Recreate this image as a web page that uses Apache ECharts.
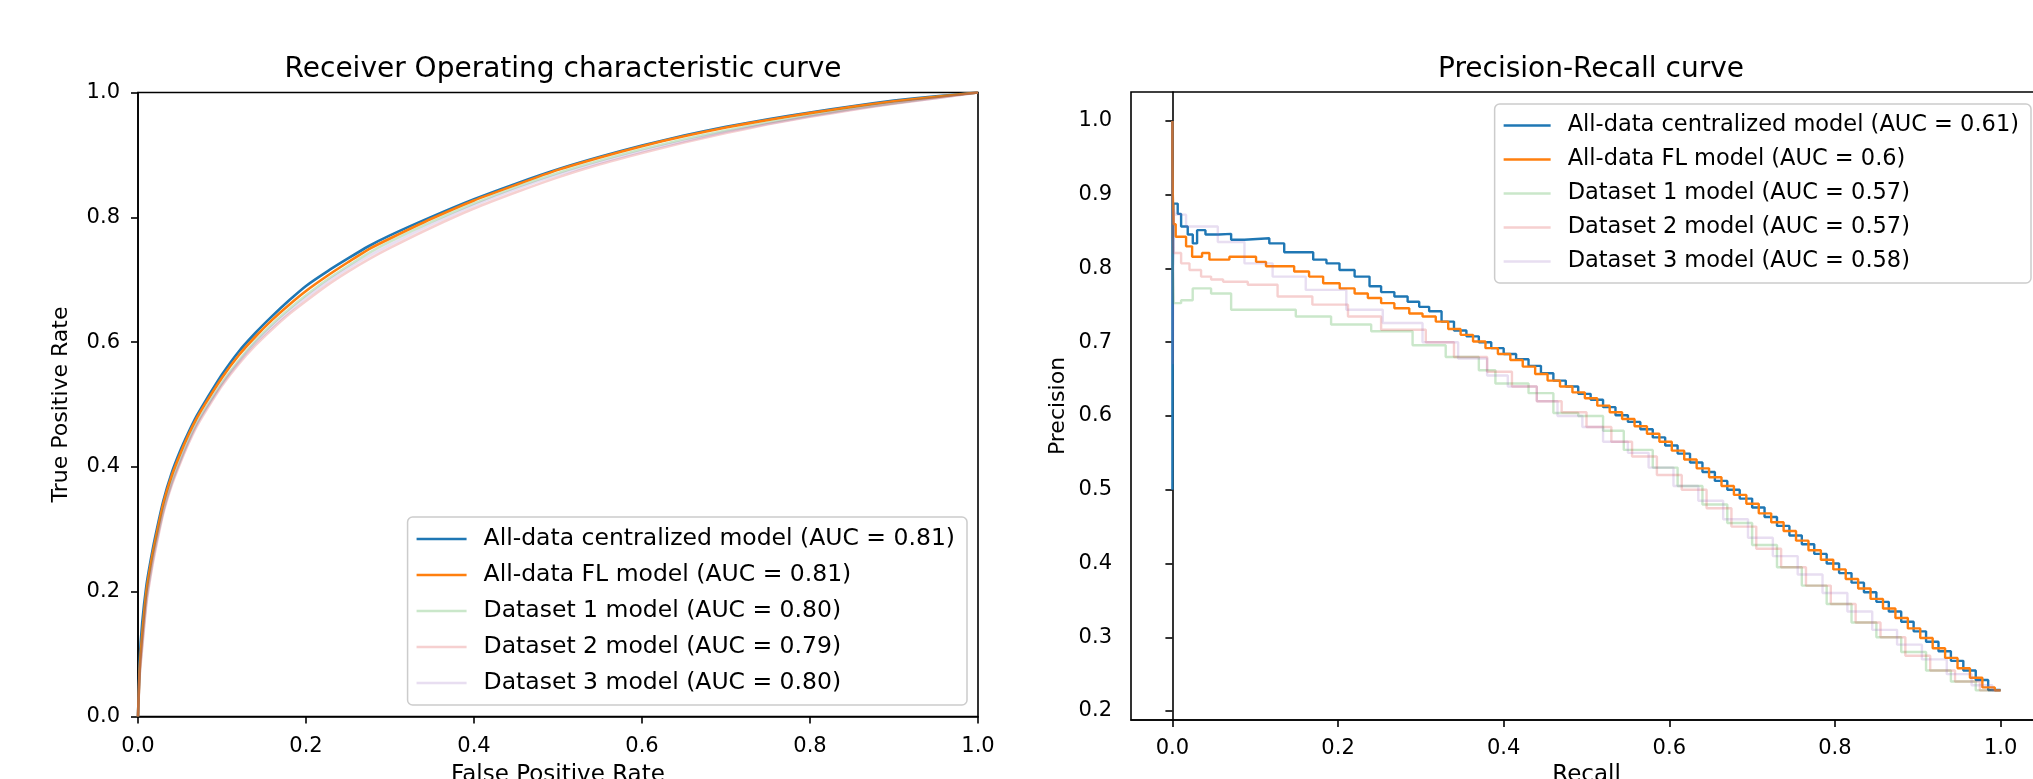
<!DOCTYPE html>
<html><head><meta charset="utf-8">
<script src="https://cdn.jsdelivr.net/npm/echarts@6/dist/echarts.min.js"></script>
<style>html,body{margin:0;padding:0;background:#fff;overflow:hidden}#c{width:2033px;height:779px}</style>
</head><body><div id="c"></div>
<script>
// ---------- titles / labels ----------
const rocTitle = 'Receiver Operating characteristic curve';
const prTitle = 'Precision-Recall curve';
const rocXName = 'False Positive Rate';
const rocYName = 'True Positive Rate';
const prXName = 'Recall';
const prYName = 'Precision';

const rocNames = ['All-data centralized model (AUC = 0.81)', 'All-data FL model (AUC = 0.81)',
  'Dataset 1 model (AUC = 0.80)', 'Dataset 2 model (AUC = 0.79)', 'Dataset 3 model (AUC = 0.80)'];
const prNames = ['All-data centralized model (AUC = 0.61)', 'All-data FL model (AUC = 0.6)',
  'Dataset 1 model (AUC = 0.57)', 'Dataset 2 model (AUC = 0.57)', 'Dataset 3 model (AUC = 0.58)'];

const rocTicks = [0, 0.2, 0.4, 0.6, 0.8, 1.0];
const prXTicks = [0, 0.2, 0.4, 0.6, 0.8, 1.0];
const prYTicks = [0.2, 0.3, 0.4, 0.5, 0.6, 0.7, 0.8, 0.9, 1.0];

// ---------- ROC data ----------
const rocFpr = [0, 0.002, 0.005, 0.01, 0.015, 0.02, 0.03, 0.04, 0.05, 0.06, 0.07, 0.08, 0.1, 0.12, 0.14, 0.16, 0.18, 0.2, 0.225, 0.25, 0.275, 0.3, 0.35, 0.4, 0.45, 0.5, 0.55, 0.6, 0.65, 0.7, 0.75, 0.8, 0.85, 0.9, 0.95, 1.0];
const rocCentral = [0, 0.09, 0.15, 0.21, 0.25, 0.285, 0.345, 0.39, 0.425, 0.455, 0.482, 0.505, 0.548, 0.585, 0.615, 0.642, 0.667, 0.69, 0.713, 0.734, 0.754, 0.771, 0.801, 0.829, 0.854, 0.877, 0.897, 0.915, 0.931, 0.945, 0.957, 0.968, 0.978, 0.987, 0.994, 1.0];
const rocFL = [0, 0.075, 0.13, 0.20, 0.243, 0.278, 0.34, 0.385, 0.42, 0.451, 0.478, 0.501, 0.543, 0.579, 0.609, 0.636, 0.66, 0.682, 0.706, 0.728, 0.749, 0.766, 0.798, 0.827, 0.852, 0.876, 0.896, 0.914, 0.93, 0.944, 0.956, 0.967, 0.977, 0.986, 0.993, 1.0];
const rocDs1 = [0, 0.07, 0.12, 0.19, 0.233, 0.27, 0.33, 0.375, 0.41, 0.442, 0.47, 0.493, 0.535, 0.571, 0.602, 0.629, 0.653, 0.675, 0.7, 0.722, 0.743, 0.761, 0.793, 0.822, 0.848, 0.871, 0.891, 0.909, 0.925, 0.939, 0.952, 0.963, 0.974, 0.983, 0.992, 1.0];
const rocDs2 = [0, 0.065, 0.11, 0.18, 0.225, 0.262, 0.325, 0.37, 0.405, 0.437, 0.465, 0.488, 0.53, 0.565, 0.595, 0.621, 0.645, 0.666, 0.691, 0.713, 0.733, 0.751, 0.784, 0.814, 0.84, 0.864, 0.885, 0.903, 0.92, 0.935, 0.949, 0.961, 0.972, 0.982, 0.991, 1.0];
const rocDs3 = [0, 0.068, 0.115, 0.185, 0.229, 0.266, 0.328, 0.373, 0.408, 0.44, 0.468, 0.491, 0.533, 0.568, 0.599, 0.625, 0.649, 0.671, 0.696, 0.718, 0.738, 0.756, 0.789, 0.819, 0.845, 0.868, 0.888, 0.906, 0.922, 0.937, 0.95, 0.962, 0.973, 0.983, 0.991, 1.0];

// ---------- Precision-Recall data (recall ascending, precision level) ----------
const prRecCentral = [0, 0.0004, 0.0012, 0.0064, 0.0105, 0.0185, 0.0246, 0.0298, 0.0399, 0.056, 0.0709, 0.087, 0.117, 0.135, 0.170, 0.186, 0.2017, 0.22, 0.238, 0.252, 0.268, 0.284, 0.298, 0.31, 0.325, 0.34, 0.355, 0.37, 0.385, 0.40, 0.415, 0.43, 0.445, 0.46, 0.475, 0.49, 0.505, 0.52, 0.535, 0.55, 0.565, 0.58, 0.595, 0.61, 0.625, 0.64, 0.655, 0.67, 0.685, 0.70, 0.715, 0.73, 0.745, 0.76, 0.775, 0.79, 0.805, 0.82, 0.835, 0.85, 0.865, 0.88, 0.895, 0.91, 0.925, 0.94, 0.955, 0.97, 0.985, 1.0];
const prPreCentral = [1.0, 0.5, 0.79, 0.888, 0.874, 0.857, 0.846, 0.834, 0.852, 0.846, 0.847, 0.839, 0.841, 0.834, 0.822, 0.812, 0.807, 0.798, 0.789, 0.776, 0.768, 0.762, 0.755, 0.748, 0.742, 0.728, 0.716, 0.708, 0.700, 0.692, 0.684, 0.677, 0.668, 0.658, 0.648, 0.640, 0.630, 0.622, 0.612, 0.601, 0.592, 0.582, 0.571, 0.560, 0.549, 0.537, 0.524, 0.512, 0.500, 0.488, 0.476, 0.463, 0.451, 0.438, 0.426, 0.413, 0.400, 0.387, 0.374, 0.361, 0.348, 0.335, 0.321, 0.308, 0.294, 0.281, 0.268, 0.255, 0.242, 0.2285];

const prRecFL = [0, 0.0005, 0.0015, 0.004, 0.0165, 0.0238, 0.0358, 0.0447, 0.0688, 0.101, 0.113, 0.147, 0.165, 0.182, 0.202, 0.220, 0.236, 0.252, 0.268, 0.286, 0.302, 0.318, 0.333, 0.348, 0.363, 0.378, 0.393, 0.408, 0.423, 0.438, 0.453, 0.468, 0.483, 0.498, 0.513, 0.528, 0.543, 0.558, 0.573, 0.588, 0.603, 0.618, 0.633, 0.648, 0.663, 0.678, 0.693, 0.708, 0.723, 0.738, 0.753, 0.768, 0.783, 0.798, 0.813, 0.828, 0.843, 0.858, 0.873, 0.888, 0.903, 0.918, 0.933, 0.948, 0.963, 0.978, 0.993, 1.0];
const prPreFL = [1.0, 0.95, 0.90, 0.86, 0.843, 0.830, 0.816, 0.821, 0.812, 0.816, 0.809, 0.803, 0.796, 0.789, 0.780, 0.773, 0.766, 0.760, 0.753, 0.746, 0.739, 0.735, 0.728, 0.718, 0.710, 0.701, 0.692, 0.684, 0.676, 0.667, 0.657, 0.648, 0.640, 0.632, 0.624, 0.614, 0.605, 0.596, 0.586, 0.576, 0.565, 0.553, 0.541, 0.529, 0.517, 0.505, 0.493, 0.481, 0.468, 0.456, 0.444, 0.431, 0.418, 0.405, 0.392, 0.379, 0.366, 0.352, 0.339, 0.326, 0.312, 0.299, 0.285, 0.272, 0.258, 0.245, 0.232, 0.228];

const prRecDs1 = [0, 0.0005, 0.0015, 0.0105, 0.0245, 0.0467, 0.0709, 0.149, 0.1916, 0.24, 0.29, 0.33, 0.37, 0.39, 0.43, 0.46, 0.49, 0.52, 0.545, 0.58, 0.61, 0.64, 0.67, 0.70, 0.73, 0.76, 0.79, 0.82, 0.85, 0.88, 0.91, 0.94, 0.97, 1.0];
const prPreDs1 = [1.0, 0.88, 0.80, 0.753, 0.757, 0.773, 0.766, 0.744, 0.735, 0.724, 0.715, 0.696, 0.680, 0.662, 0.644, 0.631, 0.604, 0.600, 0.580, 0.554, 0.530, 0.505, 0.480, 0.455, 0.425, 0.395, 0.370, 0.345, 0.320, 0.300, 0.280, 0.255, 0.240, 0.228];

const prRecDs2 = [0, 0.0005, 0.0015, 0.0105, 0.0206, 0.0346, 0.0467, 0.0612, 0.091, 0.127, 0.169, 0.212, 0.252, 0.306, 0.34, 0.38, 0.41, 0.44, 0.47, 0.50, 0.53, 0.555, 0.585, 0.615, 0.645, 0.675, 0.705, 0.735, 0.765, 0.795, 0.825, 0.855, 0.885, 0.915, 0.945, 0.975, 1.0];
const prPreDs2 = [1.0, 0.90, 0.84, 0.821, 0.807, 0.798, 0.789, 0.785, 0.782, 0.778, 0.762, 0.751, 0.735, 0.717, 0.700, 0.680, 0.660, 0.640, 0.620, 0.605, 0.585, 0.565, 0.545, 0.520, 0.500, 0.475, 0.450, 0.420, 0.395, 0.370, 0.345, 0.320, 0.300, 0.275, 0.255, 0.240, 0.228];

const prRecDs3 = [0, 0.0005, 0.0015, 0.003, 0.0165, 0.0548, 0.087, 0.121, 0.161, 0.21, 0.254, 0.302, 0.345, 0.38, 0.405, 0.44, 0.465, 0.495, 0.52, 0.55, 0.575, 0.605, 0.635, 0.665, 0.695, 0.725, 0.755, 0.785, 0.815, 0.845, 0.875, 0.905, 0.935, 0.965, 0.99, 1.0];
const prPreDs3 = [1.0, 0.90, 0.67, 0.88, 0.873, 0.857, 0.836, 0.807, 0.789, 0.771, 0.744, 0.726, 0.700, 0.678, 0.655, 0.640, 0.620, 0.600, 0.585, 0.565, 0.550, 0.530, 0.505, 0.485, 0.460, 0.435, 0.410, 0.385, 0.360, 0.335, 0.310, 0.290, 0.270, 0.250, 0.235, 0.228];

const seriesColors = ['#1f77b4', '#ff7f0e', 'rgba(44,160,44,0.25)', 'rgba(214,39,40,0.22)', 'rgba(148,103,189,0.22)'];

// ---------- build ----------
const FONT = 'DejaVu Sans';
const zip = (xs, ys) => xs.map((x, i) => [x, ys[i]]);
const rocY = [rocCentral, rocFL, rocDs1, rocDs2, rocDs3];
const prX = [prRecCentral, prRecFL, prRecDs1, prRecDs2, prRecDs3];
const prY = [prPreCentral, prPreFL, prPreDs1, prPreDs2, prPreDs3];

const series = [];
rocNames.forEach((n, i) => series.push({
  type: 'line', name: n, xAxisIndex: 0, yAxisIndex: 0,
  data: zip(rocFpr, rocY[i]), symbol: 'none', showSymbol: false,
  smooth: 0.2, color: seriesColors[i],
  lineStyle: { width: 2.6, color: seriesColors[i] }, silent: true
}));
prNames.forEach((n, i) => series.push({
  type: 'line', name: n, xAxisIndex: 1, yAxisIndex: 1,
  data: zip(prX[i], prY[i]), step: 'start', symbol: 'none', showSymbol: false,
  color: seriesColors[i],
  lineStyle: { width: 2.4, color: seriesColors[i] }, silent: true
}));

const tickTxt = { color: '#000', fontFamily: FONT, fontSize: 21 };
const xNameTxt = { color: '#000', fontFamily: FONT, fontSize: 23 };
const yNameTxt = { color: '#000', fontFamily: FONT, fontSize: 22 };
const fmt = v => v.toFixed(1);
const tickStyle = { show: true, length: 7, lineStyle: { color: '#000', width: 1.6 } };
const lineStyleAx = { show: true, lineStyle: { color: '#000', width: 1.6 } };

const legendBase = {
  orient: 'vertical', icon: 'rect', itemWidth: 50, itemHeight: 2.6, itemGap: 12,
  padding: [10, 12, 10, 9], backgroundColor: '#fff', borderColor: '#cccccc',
  borderWidth: 1.5, borderRadius: 5, selectedMode: false,
  textStyle: { color: '#000', fontFamily: FONT, fontSize: 23.5, padding: [0, 0, 0, 12] }
};
const titleTxt = { color: '#000', fontFamily: FONT, fontSize: 28, fontWeight: 'normal' };

const option = {
  animation: false,
  backgroundColor: '#fff',
  title: [
    { text: rocTitle, left: 558, top: 51, textAlign: 'center', textStyle: titleTxt },
    { text: prTitle, left: 1586, top: 51, textAlign: 'center', textStyle: titleTxt }
  ],
  legend: [
    Object.assign({}, legendBase, { data: rocNames, right: 1066, bottom: 74 }),
    Object.assign({}, legendBase, { data: prNames, right: 2, top: 104, itemWidth: 47, itemGap: 11,
      textStyle: { color: '#000', fontFamily: FONT, fontSize: 22.5, padding: [0, 0, 0, 12] } })
  ],
  grid: [
    { left: 138, top: 92.5, width: 840, height: 624, show: true, borderColor: '#000', borderWidth: 1.6,
      containLabel: false, outerBoundsMode: 'none' },
    { left: 1131, top: 92, width: 911, height: 628, show: true, borderColor: '#000', borderWidth: 1.6,
      containLabel: false, outerBoundsMode: 'none' }
  ],
  xAxis: [
    { gridIndex: 0, type: 'value', min: 0, max: 1, interval: 0.2,
      name: rocXName, nameLocation: 'middle', nameGap: 47, nameTextStyle: xNameTxt,
      axisLine: lineStyleAx, axisTick: tickStyle, splitLine: { show: false },
      axisLabel: Object.assign({}, tickTxt, { margin: 20, formatter: fmt, customValues: rocTicks }) },
    { gridIndex: 1, type: 'value', min: -0.05, max: 1.05,
      name: prXName, nameLocation: 'middle', nameGap: 44, nameTextStyle: xNameTxt,
      axisLine: lineStyleAx, axisTick: Object.assign({}, tickStyle, { customValues: prXTicks }), splitLine: { show: false },
      axisLabel: Object.assign({}, tickTxt, { margin: 18, formatter: fmt, customValues: prXTicks }) }
  ],
  yAxis: [
    { gridIndex: 0, type: 'value', min: 0, max: 1, interval: 0.2,
      name: rocYName, nameLocation: 'middle', nameGap: 66, nameTextStyle: yNameTxt,
      axisLine: lineStyleAx, axisTick: tickStyle, splitLine: { show: false },
      axisLabel: Object.assign({}, tickTxt, { margin: 18, formatter: fmt, customValues: rocTicks }) },
    { gridIndex: 1, type: 'value', min: 0.1878, max: 1.0393,
      name: prYName, nameLocation: 'middle', nameGap: 62, nameTextStyle: yNameTxt,
      axisLine: lineStyleAx, axisTick: Object.assign({}, tickStyle, { customValues: prYTicks }), splitLine: { show: false },
      axisLabel: Object.assign({}, tickTxt, { margin: 19, formatter: fmt, customValues: prYTicks }) }
  ],
  series: series
};

const chart = echarts.init(document.getElementById('c'), null, { renderer: 'canvas' });
chart.setOption(option);
</script>
</body></html>
